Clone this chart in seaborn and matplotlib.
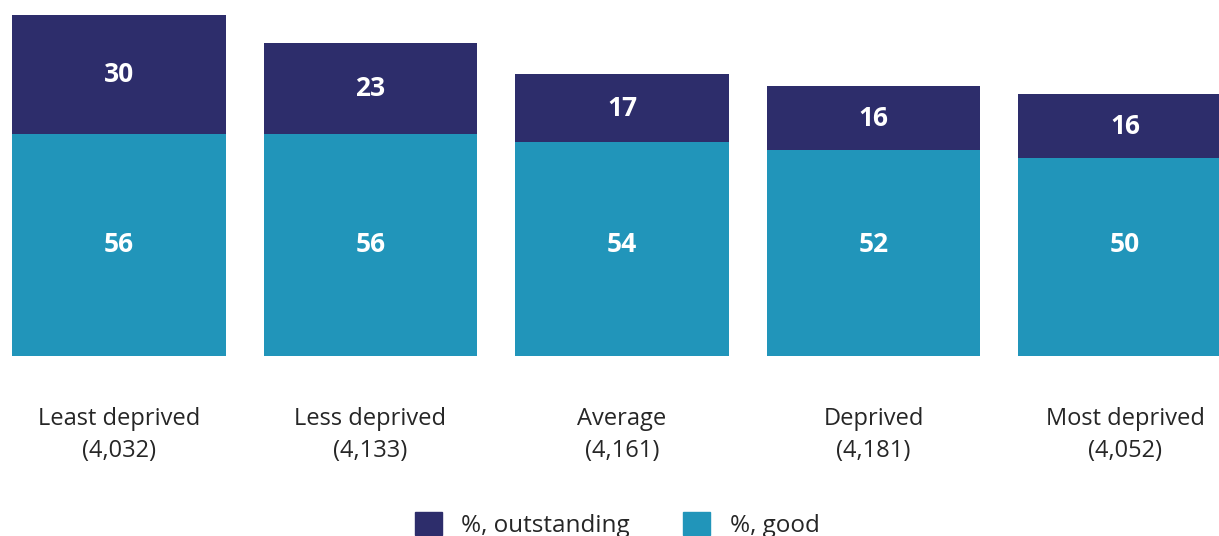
import pandas as pd
import matplotlib
matplotlib.use("Agg")
import matplotlib.pyplot as plt
import seaborn as sns
from matplotlib.patches import Patch

categories = ["Least deprived\n(4,032)", "Less deprived\n(4,133)", "Average\n(4,161)",
              "Deprived\n(4,181)", "Most deprived\n(4,052)"]
good = [56, 56, 54, 52, 50]
outstanding = [30, 23, 17, 16, 16]

col_out = "#2d2d6b"
col_good = "#2195ba"

sns.set_theme(style="white")
plt.rcParams['font.family'] = ['Open Sans', 'DejaVu Sans']

df = pd.DataFrame({"cat": categories, "good": good, "outstanding": outstanding})
df["total"] = df["good"] + df["outstanding"]

fig = plt.figure(figsize=(12.19, 5.36), dpi=100)
ax = fig.add_axes([0, (536 - 356) / 536, 1, 356 / 536])

# stack by drawing totals first, then good on top
sns.barplot(data=df, x="cat", y="total", color=col_out, width=0.85, saturation=1,
            linewidth=0, ax=ax)
sns.barplot(data=df, x="cat", y="good", color=col_good, width=0.85, saturation=1,
            linewidth=0, ax=ax)

# good labels sit on one common line, outstanding labels centred in their segment
good_y = max(good) / 2
for i, row in df.iterrows():
    ax.text(i, good_y, str(row["good"]), ha="center", va="center",
            color="white", fontsize=19, fontweight="bold")
    ax.text(i, row["good"] + row["outstanding"] / 2, str(row["outstanding"]),
            ha="center", va="center", color="white", fontsize=19,
            fontweight="bold")

ax.set_xlim(-119 / 251.5, -119 / 251.5 + 1219 / 251.5)
ax.set_ylim(0, 356 / 3.965)
ax.set_xlabel("")
ax.set_ylabel("")
ax.set_yticks([])
ax.tick_params(axis="x", length=0, pad=37, labelsize=17)
for lbl in ax.get_xticklabels():
    lbl.set_linespacing(1.45)
sns.despine(ax=ax, left=True, bottom=True)

handles = [Patch(color=col_out, label="%, outstanding"), Patch(color=col_good, label="%, good")]
fig.legend(handles=handles, loc="upper left", bbox_to_anchor=(403 / 1219, 1 - 500 / 536),
           ncol=2, frameon=False, fontsize=17.5, borderpad=0, handlelength=1.1,
           handleheight=1.1, handletextpad=0.8, columnspacing=2.2)

fig.savefig("out.png", dpi=100)
